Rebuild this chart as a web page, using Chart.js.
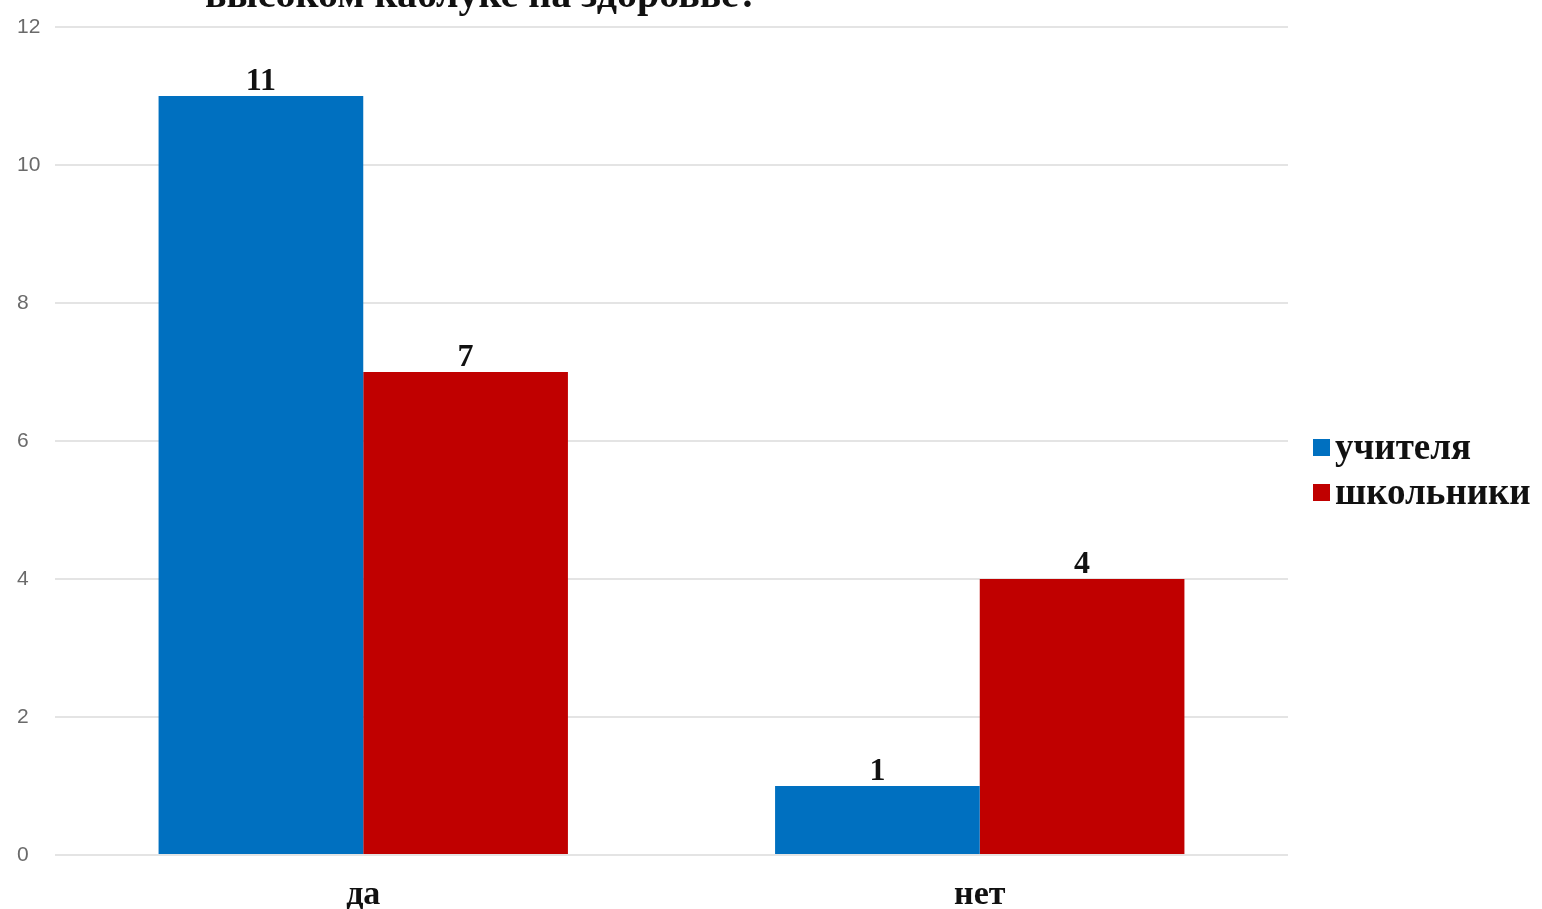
<!DOCTYPE html>
<html>
<head>
<meta charset="utf-8">
<script src="https://cdn.jsdelivr.net/npm/chart.js@4"></script>
<style>
  html, body { margin: 0; padding: 0; background: #fff; }
  #wrap { width: 1542px; height: 909px; position: relative; }
</style>
</head>
<body>
<div id="wrap"><canvas id="heelChart"></canvas></div>
<script>
// Данные опроса
const categories = ['да', 'нет'];
const teachers = [11, 1];
const pupils = [7, 4];
const seriesNames = ['учителя', 'школьники'];
const seriesColors = ['#0070c0', '#c00000'];
const titleText = 'высоком каблуке на здоровье?';

const serif = '"Liberation Serif", "Times New Roman", serif';

// Подписи значений над столбцами
const valueLabels = {
    id: 'valueLabels',
    afterDatasetsDraw(chart) {
        const ctx = chart.ctx;
        ctx.save();
        ctx.font = 'bold 32px ' + serif;
        ctx.fillStyle = '#111';
        ctx.textAlign = 'center';
        ctx.textBaseline = 'alphabetic';
        chart.data.datasets.forEach((ds, i) => {
            chart.getDatasetMeta(i).data.forEach((bar, j) => {
                ctx.fillText(ds.data[j], bar.x, bar.y - 6);
            });
        });
        ctx.restore();
    }
};

// Заголовок (видна только нижняя строка) и легенда справа
const titleAndLegend = {
    id: 'titleAndLegend',
    afterDraw(chart) {
        const ctx = chart.ctx;
        ctx.save();
        ctx.fillStyle = '#111';
        ctx.font = 'bold 40px ' + serif;
        ctx.textAlign = 'left';
        ctx.textBaseline = 'alphabetic';
        ctx.fillText(titleText, 205, 7);

        const x0 = chart.chartArea.right + 25;
        let y = 448;
        ctx.font = 'bold 37px ' + serif;
        ctx.textBaseline = 'middle';
        chart.data.datasets.forEach(ds => {
            ctx.fillStyle = ds.backgroundColor;
            ctx.fillRect(x0, y - 9, 17, 17);
            ctx.fillStyle = '#111';
            ctx.fillText(ds.label, x0 + 22, y + 1);
            y += 45;
        });
        ctx.restore();
    }
};

new Chart(document.getElementById('heelChart'), {
    type: 'bar',
    data: {
        labels: categories,
        datasets: [
            { label: seriesNames[0], data: teachers, backgroundColor: seriesColors[0] },
            { label: seriesNames[1], data: pupils, backgroundColor: seriesColors[1] }
        ]
    },
    options: {
        responsive: true,
        maintainAspectRatio: false,
        animation: false,
        layout: { padding: { top: 27, right: 254, left: 17, bottom: 0 } },
        datasets: {
            bar: { barPercentage: 1, categoryPercentage: 0.664 }
        },
        scales: {
            x: {
                grid: { display: false },
                border: { display: false },
                ticks: {
                    color: '#111',
                    font: { family: serif, size: 34, weight: 'bold' },
                    padding: 12
                },
                afterFit(scale) { scale.height = 54; }
            },
            y: {
                min: 0,
                max: 12,
                ticks: {
                    stepSize: 2,
                    color: '#6a6a6a',
                    font: { family: '"Liberation Sans", Arial, sans-serif', size: 21 },
                    crossAlign: 'far',
                    padding: 10
                },
                grid: { color: '#e4e4e4', lineWidth: 2, drawTicks: false },
                border: { display: false },
                afterFit(scale) { scale.width = 38; }
            }
        },
        plugins: {
            legend: { display: false },
            tooltip: { enabled: false }
        }
    },
    plugins: [valueLabels, titleAndLegend]
});
</script>
</body>
</html>
